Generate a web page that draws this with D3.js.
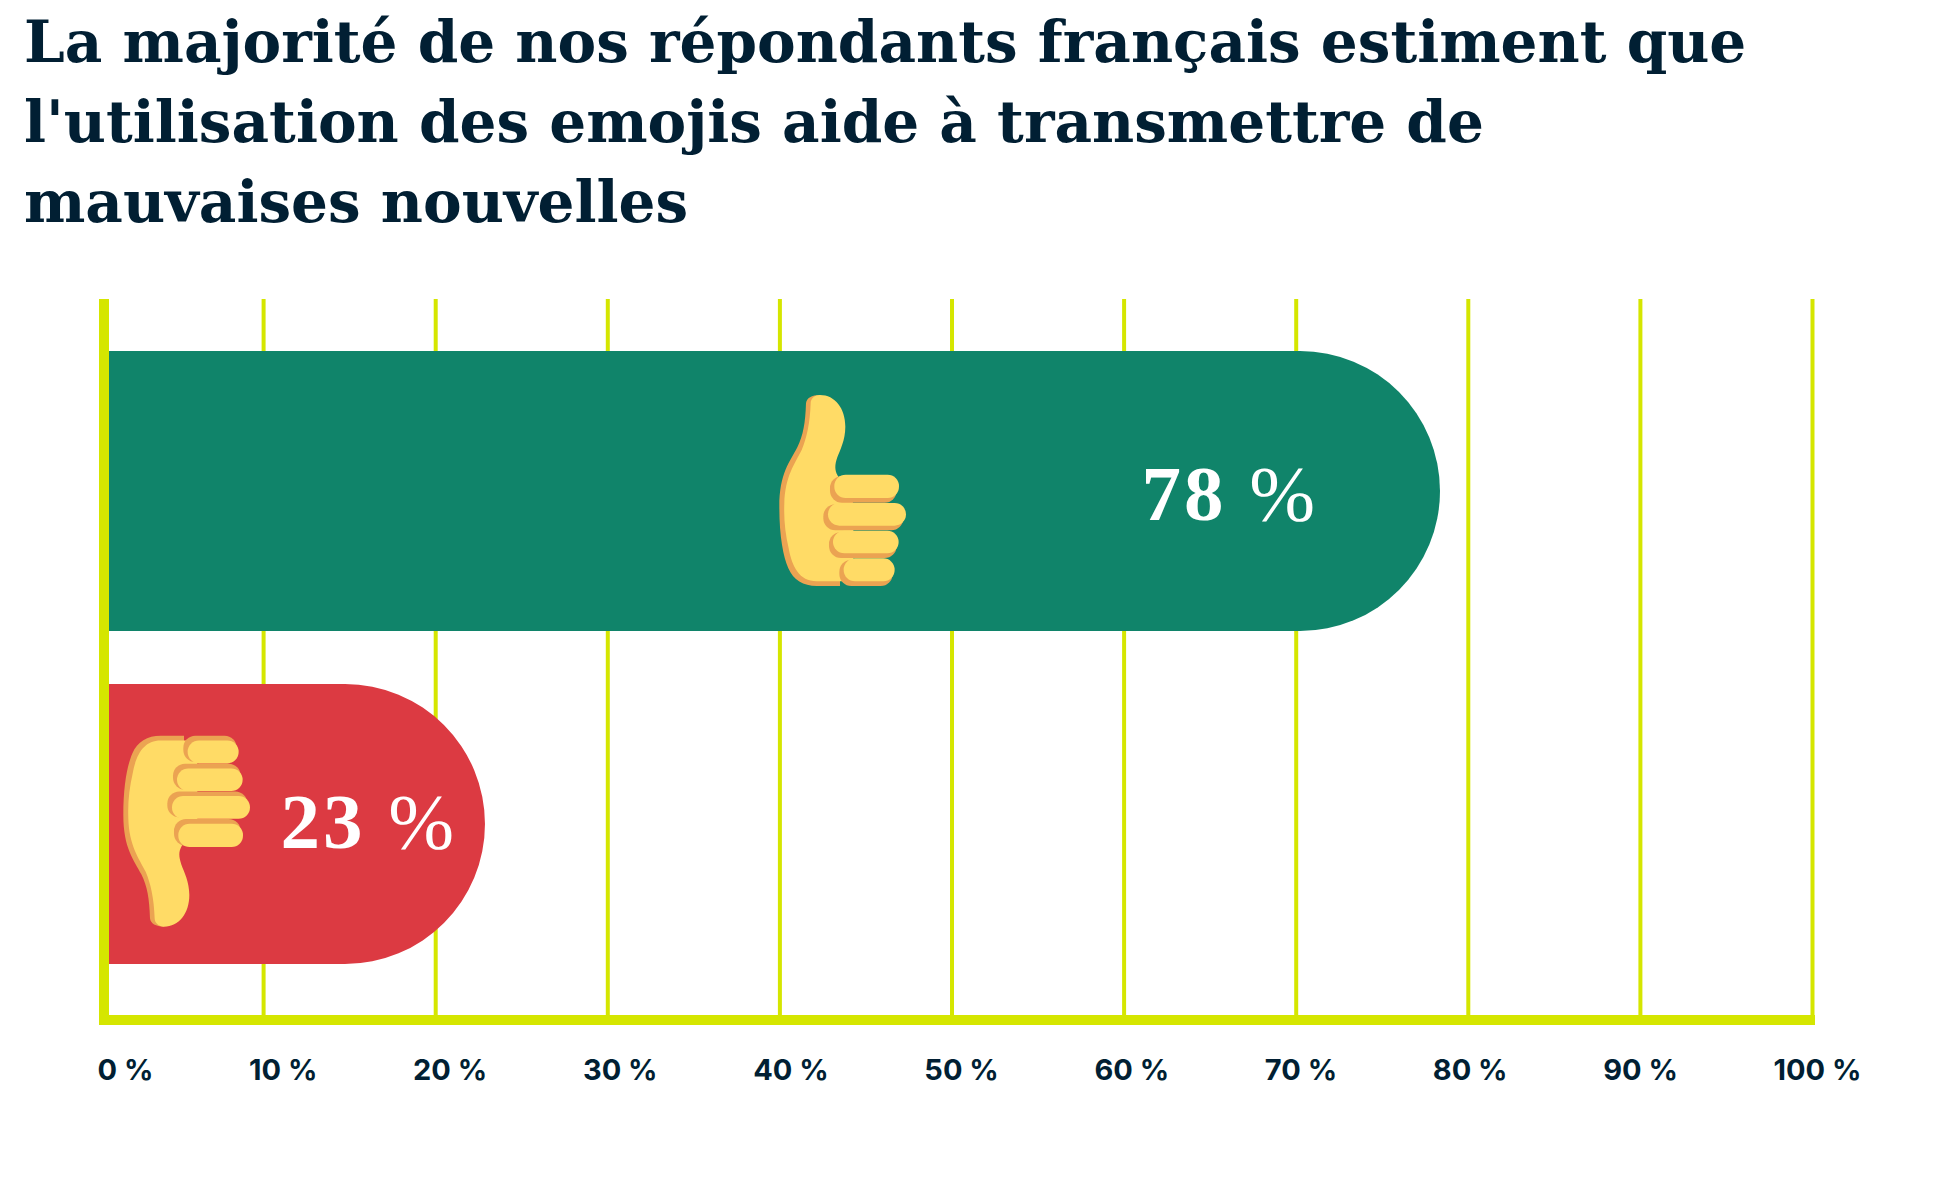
<!DOCTYPE html>
<html lang="fr">
<head>
<meta charset="utf-8">
<title>Emojis et mauvaises nouvelles</title>
<script src="https://cdn.jsdelivr.net/npm/d3@7/dist/d3.min.js"></script>
<style>
  html, body { margin: 0; padding: 0; background: #fff; }
  svg { display: block; }
  .title { font-family: "DejaVu Serif", serif; font-weight: 700; font-size: 58px; fill: #011f33; }
  .value { font-family: "Liberation Serif", serif; font-size: 79px; fill: #fff; }
  .value .digits { font-weight: 700; letter-spacing: 3px; }
  .value .unit { font-weight: 400; }
  .tick text { font-family: Inter, sans-serif; font-weight: 700; font-size: 29px; fill: #011f33; }
</style>
</head>
<body>
<script>
// Survey result: share of respondents agreeing / disagreeing
const titleLines = [
  "La majorité de nos répondants français estiment que",
  "l'utilisation des emojis aide à transmettre de",
  "mauvaises nouvelles"
];
const answers = ["oui", "non"];
const shares = [78, 23];
const barColors = ["#10846a", "#dc3a42"];
const tickValues = [0, 10, 20, 30, 40, 50, 60, 70, 80, 90, 100];

const width = 1940, height = 1187;
const lime = "#d5e600", skin = "#ffdb66", shade = "#eba352";

const svg = d3.select("body").append("svg").attr("width", width).attr("height", height);

// Headline
svg.append("g").selectAll("text").data(titleLines).join("text")
  .attr("class", "title").attr("x", 24).attr("y", (d, i) => 62 + i * 80).text(d => d);

// Scales: the grid has its own reach, the bars run slightly further
const gridX = d3.scaleLinear().domain([0, 100]).range([91, 1812]);
const barX = d3.scaleLinear().domain([0, 100]).range([85.6, 1822]);
const rowY = d3.scaleBand().domain(answers).range([351, 964]).paddingInner(53 / 333);

const plotTop = 299, plotBottom = 1020, plotLeft = 109;

// Vertical grid and tick labels
const axis = d3.axisBottom(gridX).tickValues(tickValues).tickFormat(d => d + " %")
  .tickSize(-(plotBottom - plotTop)).tickPadding(60);
const axisG = svg.append("g").attr("transform", `translate(0,${plotBottom})`).call(axis);
axisG.select(".domain").remove();
axisG.selectAll(".tick line").attr("stroke", lime).attr("stroke-width", 4)
  .style("display", d => d === 0 ? "none" : null);

// Labels are spread edge to edge with equal gaps between them
const labels = axisG.selectAll(".tick text").attr("text-anchor", "start");
const labelWidths = labels.nodes().map(n => n.getComputedTextLength());
const labelStart = 97, labelEnd = 1861;
const gap = (labelEnd - labelStart - d3.sum(labelWidths)) / (labelWidths.length - 1);
labels.attr("x", function (d, i) {
    return labelStart + d3.sum(labelWidths.slice(0, i)) + gap * i - gridX(d);
  }).attr("y", 1080 - plotBottom).attr("dy", null);

// Bars: square at the axis, fully rounded at the value end
const barPath = (x0, x1, y, h) => {
  const r = h / 2;
  return `M${x0},${y}H${x1 - r}A${r},${r} 0 0 1 ${x1 - r},${y + h}H${x0}Z`;
};
svg.append("g").selectAll("path").data(shares).join("path")
  .attr("fill", (d, i) => barColors[i])
  .attr("d", (d, i) => barPath(plotLeft, barX(d), rowY(answers[i]), rowY.bandwidth()));

// Axis frame
svg.append("rect").attr("x", 99).attr("y", plotTop).attr("width", 10).attr("height", 1025 - plotTop).attr("fill", lime);
svg.append("rect").attr("x", 99).attr("y", 1015).attr("width", 1815 - 99).attr("height", 10).attr("fill", lime);

// Hand pictogram, drawn pointing up in a 600-wide local grid
function drawHand(g) {
  g.append("path").attr("fill", shade).attr("d",
    "M240,75C215,75 200,84 198,100C196,160 190,195 172,232C150,275 118,310 118,410C118,500 130,560 145,595C160,630 190,648 230,648L300,648L300,340L250,300Z");
  g.append("path").attr("fill", skin).attr("d",
    "M240,75C285,75 316,115 316,170C316,210 300,240 292,262C284,285 284,300 292,315L340,400L340,634L230,634C178,634 156,590 146,535C136,490 131,450 133,400C135,320 165,280 185,240C200,205 210,160 212,100C212,85 225,75 240,75Z");
  [[283, 477, 314, 384, 270, 470, 398],
   [264, 498, 399, 467, 250, 490, 481],
   [279, 476, 482, 550, 267, 470, 564],
   [311, 464, 565, 634, 298, 458, 648]].forEach(([x0, x1, y0, y1, sx0, sx1, sy1]) => {
    g.append("rect").attr("fill", shade).attr("x", sx0).attr("y", y0 + 4)
      .attr("width", sx1 - sx0).attr("height", sy1 - y0 - 4).attr("rx", 36);
    g.append("rect").attr("fill", skin).attr("x", x0).attr("y", y0)
      .attr("width", x1 - x0).attr("height", y1 - y0).attr("rx", 34);
  });
}
drawHand(svg.append("g").attr("transform", "translate(740,370) scale(0.3333)"));
drawHand(svg.append("g").attr("transform", "translate(84,951.7) scale(0.3333,-0.3333)"));

// Value labels inside the bars
const labelInset = [125, 31], labelDrop = [29, 24];
const valueText = svg.append("g").selectAll("text").data(shares).join("text")
  .attr("class", "value").attr("text-anchor", "end")
  .attr("x", (d, i) => barX(d) - labelInset[i])
  .attr("y", (d, i) => rowY(answers[i]) + rowY.bandwidth() / 2 + labelDrop[i]);
valueText.append("tspan").attr("class", "digits").text(d => d + " ");
valueText.append("tspan").attr("class", "unit").text("%");
</script>
</body>
</html>
